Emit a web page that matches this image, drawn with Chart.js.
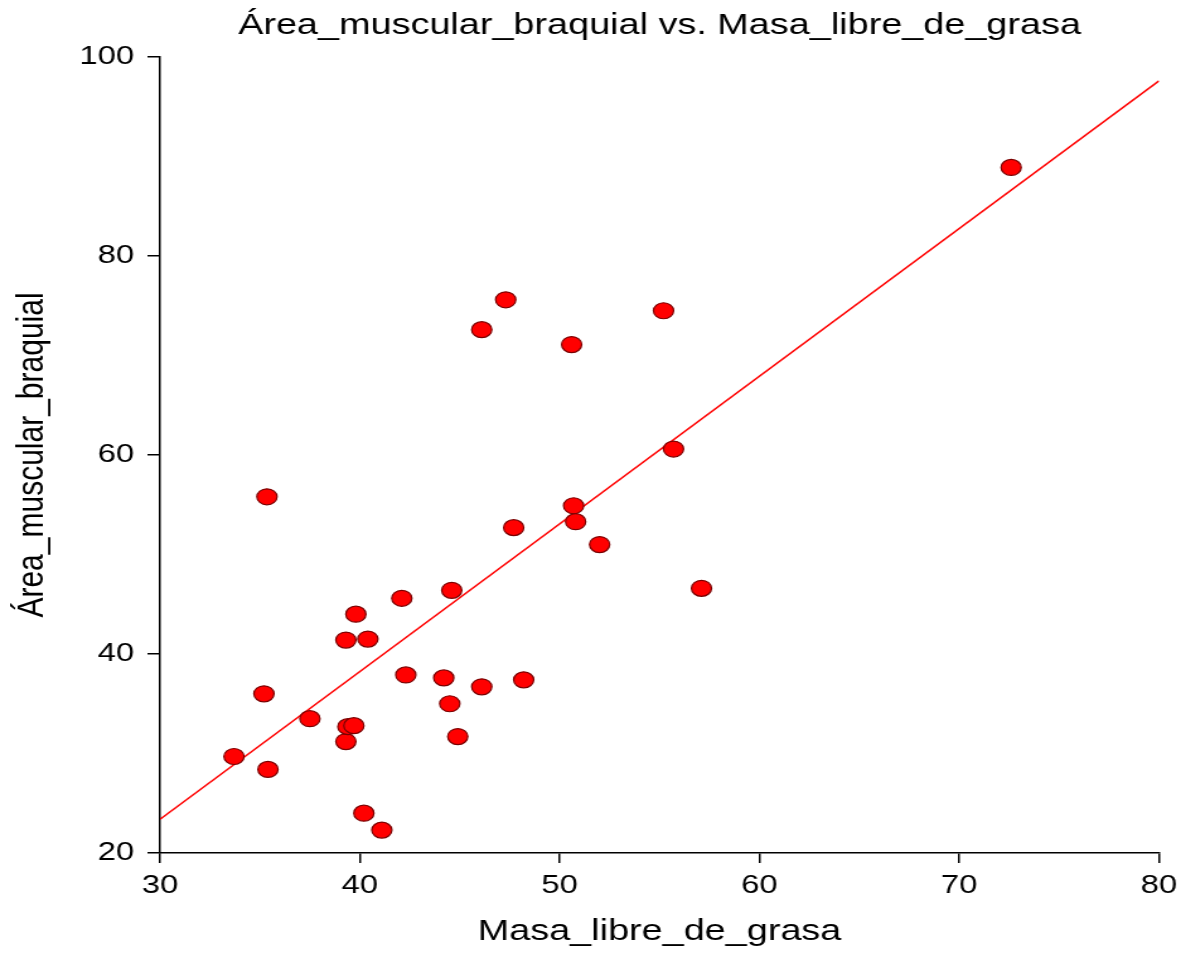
<!DOCTYPE html>
<html lang="es">
<head>
  <meta charset="UTF-8">
  <title>Área_muscular_braquial vs. Masa_libre_de_grasa</title>
  <script src="https://cdn.jsdelivr.net/npm/chart.js"></script>
  <style>
    body { margin: 0; background: #fff; overflow: hidden; }
    /* the original figure is stretched sideways (round markers became ovals),
       so the chart is drawn narrower and widened back with a transform */
    .wrap {
      position: relative;
      width: 941px;
      height: 953px;
      transform: scaleX(1.2604);
      transform-origin: 0 0;
    }
  </style>
</head>
<body>
  <div class="wrap"><canvas id="plot"></canvas></div>
  <script>
    // data
    const masaLibre = [33.7, 35.2, 35.35, 35.4, 37.5, 39.3, 39.3, 39.4, 39.7, 39.8, 40.4, 40.2,
                       41.1, 42.1, 42.3, 44.2, 44.6, 44.5, 44.9, 46.1, 46.1, 47.3, 47.7, 48.2,
                       50.6, 50.7, 50.8, 52.0, 55.2, 55.7, 57.1, 72.6];
    const areaMuscular = [29.7, 36.0, 55.8, 28.4, 33.5, 41.4, 31.2, 32.7, 32.8, 44.0, 41.5, 24.0,
                          22.3, 45.6, 37.9, 37.6, 46.4, 35.0, 31.7, 36.7, 72.6, 75.6, 52.7, 37.4,
                          71.1, 54.9, 53.3, 51.0, 74.5, 60.6, 46.6, 88.9];
    const fitX = [30, 80];
    const fitY = [23.4, 97.6];
    const xTicks = [30, 40, 50, 60, 70, 80];
    const yTicks = [20, 40, 60, 80, 100];

    const titleText = 'Área_muscular_braquial vs. Masa_libre_de_grasa';
    const fontFamily = '"Liberation Sans", Arial, sans-serif';

    const centerTitle = {
      id: 'centerTitle',
      afterDraw(chart) {
        const { ctx, chartArea } = chart;
        ctx.save();
        ctx.font = '30px ' + fontFamily;
        ctx.fillStyle = '#000';
        ctx.textAlign = 'center';
        ctx.textBaseline = 'middle';
        ctx.fillText(titleText, (chartArea.left + chartArea.right) / 2, 26);
        ctx.restore();
      }
    };

    const tickFont = { family: fontFamily, size: 26 };

    new Chart(document.getElementById('plot'), {
      data: {
        datasets: [
          {
            type: 'scatter',
            data: masaLibre.map((x, i) => ({ x: x, y: areaMuscular[i] })),
            pointStyle: 'circle',
            pointRadius: 8,
            backgroundColor: '#ff0000',
            borderColor: '#7a0000',
            borderWidth: 1.2,
            order: 0
          },
          {
            type: 'line',
            data: fitX.map((x, i) => ({ x: x, y: fitY[i] })),
            borderColor: '#ff0000',
            borderWidth: 1.5,
            pointRadius: 0,
            fill: false,
            order: 1
          }
        ]
      },
      options: {
        responsive: true,
        maintainAspectRatio: false,
        animation: false,
        layout: { padding: { top: 57, right: 21.4, left: 0, bottom: 0 } },
        plugins: { legend: { display: false }, tooltip: { enabled: false } },
        scales: {
          x: {
            type: 'linear',
            min: 30, max: 80,
            afterFit: s => { s.height = 100; },
            afterBuildTicks: s => { s.ticks = xTicks.map(v => ({ value: v })); },
            ticks: { font: tickFont, color: '#000', padding: 7 },
            grid: { drawOnChartArea: false, drawTicks: true, tickLength: 10, color: '#000', lineWidth: 1.5 },
            border: { display: true, color: '#000', width: 1.5 },
            title: {
              display: true, text: 'Masa_libre_de_grasa', color: '#000',
              font: { family: fontFamily, size: 30 },
              padding: { top: 0, bottom: 3 }
            }
          },
          y: {
            type: 'linear',
            min: 20, max: 100,
            afterFit: s => { s.width = 127; },
            afterBuildTicks: s => { s.ticks = yTicks.map(v => ({ value: v })); },
            ticks: { font: tickFont, color: '#000', padding: 10.5 },
            grid: { drawOnChartArea: false, drawTicks: true, tickLength: 10, color: '#000', lineWidth: 1.5 },
            border: { display: true, color: '#000', width: 1.5 },
            title: {
              display: true, text: 'Área_muscular_braquial', color: '#000',
              font: { family: fontFamily, size: 30 },
              padding: { top: 8, bottom: 0 }
            }
          }
        }
      },
      plugins: [centerTitle]
    });
  </script>
</body>
</html>
